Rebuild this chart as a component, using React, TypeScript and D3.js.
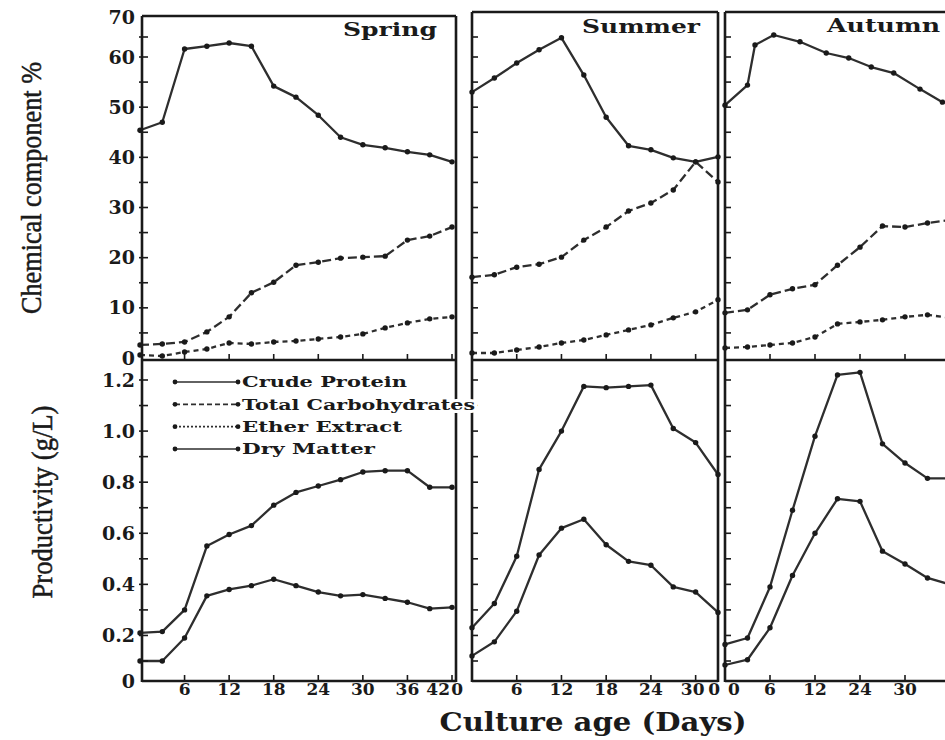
import React, { useEffect, useRef } from "react";
import * as d3 from "d3";

// sampling days (culture age)
const springDays = [0, 3, 6, 9, 12, 15, 18, 21, 24, 27, 30, 33, 36, 39, 42];
const summerDays = [0, 3, 6, 9, 12, 15, 18, 21, 24, 27, 30, 33];
const autumnDays = [0, 3, 6, 9, 12, 15, 18, 21, 24, 27, 30];
const autumnProteinDays = [0, 3, 4, 6.5, 10, 13.5, 16.5, 19.5, 22.5, 26, 29];

// chemical component %
const springProtein = [45.4, 47.0, 62.0, 62.7, 63.5, 62.7, 54.2, 52.0, 48.4, 44.0, 42.5, 41.9, 41.1, 40.5, 39.1];
const springCarbs = [2.6, 2.8, 3.2, 5.2, 8.2, 13.0, 15.1, 18.5, 19.1, 19.9, 20.1, 20.3, 23.5, 24.3, 26.1];
const springEther = [0.6, 0.4, 1.2, 1.8, 3.0, 2.8, 3.2, 3.4, 3.8, 4.2, 4.8, 6.0, 7.0, 7.8, 8.2];

const summerProtein = [53.0, 55.8, 58.8, 61.8, 64.8, 56.4, 48.0, 42.3, 41.5, 39.9, 39.1, 40.1];
const summerCarbs = [16.1, 16.6, 18.1, 18.7, 20.1, 23.5, 26.1, 29.3, 30.9, 33.5, 39.1, 35.1];
const summerEther = [1.0, 1.0, 1.6, 2.2, 3.0, 3.6, 4.6, 5.6, 6.6, 8.0, 9.2, 11.6];

const autumnProtein = [50.4, 54.4, 63.0, 65.5, 63.8, 61.0, 59.8, 58.0, 56.8, 53.6, 51.0];
const autumnCarbs = [9.0, 9.6, 12.6, 13.8, 14.6, 18.5, 22.1, 26.3, 26.1, 26.9, 27.5];
const autumnEther = [2.0, 2.2, 2.6, 3.0, 4.2, 6.8, 7.2, 7.6, 8.2, 8.6, 8.0];

// productivity (g/L)
const springDryMatter = [0.21, 0.215, 0.3, 0.55, 0.595, 0.63, 0.71, 0.76, 0.785, 0.81, 0.84, 0.845, 0.845, 0.78, 0.78];
const springProteinYield = [0.1, 0.1, 0.19, 0.355, 0.38, 0.395, 0.42, 0.395, 0.37, 0.355, 0.36, 0.345, 0.33, 0.305, 0.31];
const summerDryMatter = [0.23, 0.325, 0.51, 0.85, 1.0, 1.175, 1.17, 1.175, 1.18, 1.01, 0.955, 0.83];
const summerProteinYield = [0.12, 0.175, 0.295, 0.515, 0.62, 0.655, 0.555, 0.49, 0.475, 0.39, 0.37, 0.29];
const autumnDryMatter = [0.165, 0.19, 0.39, 0.69, 0.98, 1.22, 1.23, 0.95, 0.875, 0.815, 0.815];
const autumnProteinYield = [0.08, 0.105, 0.23, 0.435, 0.6, 0.735, 0.725, 0.53, 0.48, 0.425, 0.4];

// axis ticks and labels
const topTicks = [0, 10, 20, 30, 40, 50, 60, 70];
const topMinorTicks = [5, 15, 25, 35, 45, 55, 65];
const bottomTicks = [0, 0.2, 0.4, 0.6, 0.8, 1.0, 1.2];
const bottomMinorTicks = [0.1, 0.3, 0.5, 0.7, 0.9, 1.1];
const springTicks = [6, 12, 18, 24, 30, 36, 42];
const springTickLabels = ["6", "12", "18", "24", "30", "36", "42"];
const summerTicks = [0, 6, 12, 18, 24, 30, 33];
const summerTickLabels = ["0", "6", "12", "18", "24", "30", "0"];
const autumnTicks = [0, 6, 12, 18, 24];
const autumnTickLabels = ["0", "6", "12", "24", "30"];

const legendLabels = ["Crude Protein", "Total Carbohydrates", "Ether Extract", "Dry Matter"];
const legendDashes = [null, "5,3", "2,2", null];
const legendWidths = [165, 233, 160, 133];

const INK = "#1a1a1a";
const LINE = "#2e2e2e";
const BOLD = "'DejaVu Serif', serif";

const App = () => {
  const svgRef = useRef<SVGSVGElement>(null);

  useEffect(() => {
    const svg = d3.select(svgRef.current);
    svg.selectAll("*").remove();

    const yTop = d3.scaleLinear().domain([0, 60, 70]).range([358, 57, 17]);
    const yBottom = d3.scaleLinear().domain([0, 0.1, 1.2]).range([681, 661, 380]);
    const midY = 360;
    const baseY = 681;

    const panels = [
      {
        name: "Spring",
        x: d3.scaleLinear().domain([0, 42]).range([140, 452]),
        left: 142, right: 456, top: 16,
        titleX: 343, titleY: 36, titleW: 94,
        ticks: springTicks, tickLabels: springTickLabels,
        top3: [
          { days: springDays, values: springProtein, dash: null },
          { days: springDays, values: springCarbs, dash: "9,4" },
          { days: springDays, values: springEther, dash: "5,4" },
        ],
        bottom2: [
          { days: springDays, values: springDryMatter },
          { days: springDays, values: springProteinYield },
        ],
      },
      {
        name: "Summer",
        x: d3.scaleLinear().domain([0, 33]).range([472, 718]),
        left: 472, right: 718, top: 12,
        titleX: 582, titleY: 33, titleW: 118,
        ticks: summerTicks, tickLabels: summerTickLabels,
        top3: [
          { days: summerDays, values: summerProtein, dash: null },
          { days: summerDays, values: summerCarbs, dash: "9,4" },
          { days: summerDays, values: summerEther, dash: "5,4" },
        ],
        bottom2: [
          { days: summerDays, values: summerDryMatter },
          { days: summerDays, values: summerProteinYield },
        ],
      },
      {
        name: "Autumn",
        x: d3.scaleLinear().domain([0, 30]).range([725, 950]),
        left: 725, right: 960, top: 12,
        titleX: 827, titleY: 32, titleW: 113,
        ticks: autumnTicks, tickLabels: autumnTickLabels,
        top3: [
          { days: autumnProteinDays, values: autumnProtein, dash: null },
          { days: autumnDays, values: autumnCarbs, dash: "9,4" },
          { days: autumnDays, values: autumnEther, dash: "5,4" },
        ],
        bottom2: [
          { days: autumnDays, values: autumnDryMatter },
          { days: autumnDays, values: autumnProteinYield },
        ],
      },
    ];

    panels.forEach((p, pi) => {
      const g = svg.append("g");
      const drawSeries = (s, y) => {
        const pts = s.days.map((d, i) => [d, s.values[i]]);
        const ln = d3.line().x((d) => p.x(d[0])).y((d) => y(d[1]));
        g.append("path")
          .attr("d", ln(pts))
          .attr("fill", "none")
          .attr("stroke", LINE)
          .attr("stroke-width", 2.3)
          .attr("stroke-linejoin", "round")
          .attr("stroke-dasharray", s.dash || null);
        g.append("g")
          .selectAll("circle")
          .data(pts)
          .join("circle")
          .attr("cx", (d) => p.x(d[0]))
          .attr("cy", (d) => y(d[1]))
          .attr("r", 2.7)
          .attr("fill", INK);
      };
      p.top3.forEach((s) => drawSeries(s, yTop));
      p.bottom2.forEach((s) => drawSeries({ ...s, dash: null }, yBottom));

      // frame
      const fr = g.append("g").attr("stroke", INK).attr("stroke-width", 2.6).attr("fill", "none");
      fr.append("line").attr("x1", p.left).attr("x2", p.left).attr("y1", p.top).attr("y2", baseY + 1);
      fr.append("line").attr("x1", p.right).attr("x2", p.right).attr("y1", p.top).attr("y2", baseY + 1);
      [p.top, midY, baseY].forEach((yy) =>
        fr.append("line").attr("x1", p.left).attr("x2", p.right).attr("y1", yy).attr("y2", yy)
      );

      // y ticks (inward)
      const tk = g.append("g").attr("stroke", INK).attr("stroke-width", 1.6);
      const yTicks = [
        ...topTicks.slice(1, -1).map((v) => yTop(v)),
        ...topMinorTicks.map((v) => yTop(v)),
        ...bottomTicks.slice(1).map((v) => yBottom(v)),
        ...bottomMinorTicks.map((v) => yBottom(v)),
      ];
      yTicks.forEach((yy) =>
        tk.append("line").attr("x1", p.left - (pi === 0 ? 3 : 0)).attr("x2", p.left + 6).attr("y1", yy).attr("y2", yy)
      );
      // x ticks (pointing up)
      p.ticks.filter((v) => v > 0 && p.x(v) < p.right - 3).forEach((v) => {
        [midY, baseY].forEach((yy) =>
          tk.append("line").attr("x1", p.x(v)).attr("x2", p.x(v)).attr("y1", yy).attr("y2", yy - 6)
        );
      });

      // x tick labels
      p.ticks.forEach((v, i) => {
        let anchor = "middle";
        let xx = p.x(v);
        if (v === 0 && pi === 1) { anchor = "end"; xx -= 9; }
        if (v === 0 && pi === 2) { anchor = "start"; xx += 3; }
        if (i === p.ticks.length - 1 && pi === 0) { anchor = "end"; xx -= 2; }
        if (i === p.ticks.length - 1 && pi === 1) { anchor = "end"; xx += 2; }
        if (v === 30 && pi === 1) { xx -= 3; }
        g.append("text")
          .attr("x", xx)
          .attr("y", 695)
          .attr("text-anchor", anchor)
          .attr("font-family", BOLD)
          .attr("font-weight", "bold")
          .attr("font-size", 17)
          .attr("fill", INK)
          .text(p.tickLabels[i]);
      });

      // title
      g.append("text")
        .attr("x", p.titleX)
        .attr("y", p.titleY)
        .attr("font-family", BOLD)
        .attr("font-weight", "bold")
        .attr("font-size", 18)
        .attr("textLength", p.titleW)
        .attr("lengthAdjust", "spacingAndGlyphs")
        .attr("fill", INK)
        .text(p.name);
    });

    // left axis labels
    const lab = svg.append("g")
      .attr("font-family", BOLD)
      .attr("font-weight", "bold")
      .attr("font-size", 19)
      .attr("fill", INK)
      .attr("text-anchor", "end");
    topTicks.forEach((v) =>
      lab.append("text").attr("x", 135).attr("y", yTop(v)).attr("dy", "0.35em").text(v)
    );
    bottomTicks.forEach((v) =>
      lab.append("text").attr("x", 135).attr("y", yBottom(v)).attr("dy", "0.35em").text(v === 0 ? "0" : v.toFixed(1))
    );

    // axis titles
    svg.append("text")
      .attr("transform", "translate(41,188) rotate(-90)")
      .attr("text-anchor", "middle")
      .attr("font-family", "'Liberation Serif', serif")
      .attr("font-size", 30)
      .attr("textLength", 252)
      .attr("lengthAdjust", "spacingAndGlyphs")
      .attr("fill", INK)
      .attr("stroke", INK)
      .attr("stroke-width", 0.5)
      .text("Chemical component %");
    svg.append("text")
      .attr("transform", "translate(52,502) rotate(-90)")
      .attr("text-anchor", "middle")
      .attr("font-family", "'Liberation Serif', serif")
      .attr("font-size", 30)
      .attr("textLength", 193)
      .attr("lengthAdjust", "spacingAndGlyphs")
      .attr("fill", INK)
      .attr("stroke", INK)
      .attr("stroke-width", 0.5)
      .text("Productivity (g/L)");
    svg.append("text")
      .attr("x", 593)
      .attr("y", 731)
      .attr("text-anchor", "middle")
      .attr("font-family", BOLD)
      .attr("font-weight", "bold")
      .attr("font-size", 26)
      .attr("textLength", 307)
      .attr("lengthAdjust", "spacingAndGlyphs")
      .attr("fill", INK)
      .text("Culture age (Days)");

    // legend
    const legendY = d3.scalePoint().domain(legendLabels).range([382, 449]);
    const lg = svg.append("g");
    legendLabels.forEach((name, i) => {
      const yy = legendY(name);
      lg.append("text")
        .attr("x", 242)
        .attr("y", yy)
        .attr("dy", "0.35em")
        .attr("font-family", BOLD)
        .attr("font-weight", "bold")
        .attr("font-size", 15)
        .attr("textLength", legendWidths[i])
        .attr("lengthAdjust", "spacingAndGlyphs")
        .attr("fill", INK)
        .attr("stroke", "#fff")
        .attr("stroke-width", 6)
        .attr("paint-order", "stroke")
        .text(name);
      lg.append("line")
        .attr("x1", 175).attr("x2", 238).attr("y1", yy).attr("y2", yy)
        .attr("stroke", LINE).attr("stroke-width", 1.6)
        .attr("stroke-dasharray", legendDashes[i]);
      [175, 238].forEach((cx) =>
        lg.append("circle").attr("cx", cx).attr("cy", yy).attr("r", 2.4).attr("fill", INK)
      );
    });
  }, []);

  return (
    <svg
      ref={svgRef}
      width={945}
      height={740}
      style={{ position: "absolute", left: 0, top: 0, background: "#fff" }}
    />
  );
};

export default App;
